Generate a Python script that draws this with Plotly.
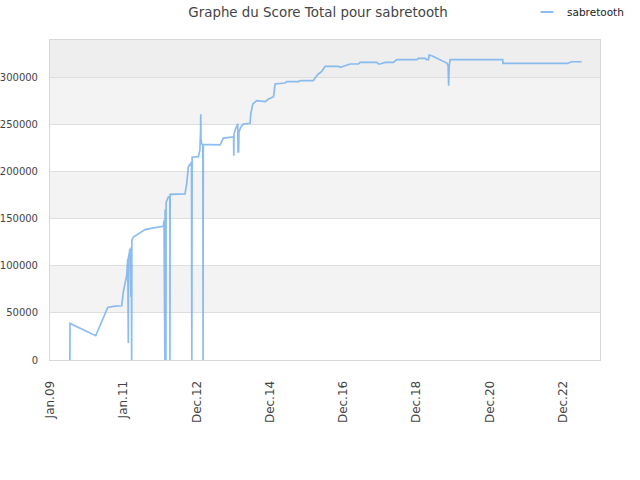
import plotly.graph_objects as go

dates = [
    "2009-07-18", "2009-07-19", "2010-04-01", "2010-07-30", "2010-10-10", "2010-12-16",
    "2011-01-01", "2011-02-04", "2011-02-14", "2011-02-20", "2011-02-22", "2011-03-09",
    "2011-03-18", "2011-03-22", "2011-03-25", "2011-03-27", "2011-04-11", "2011-05-30",
    "2011-08-05", "2011-11-13", "2012-02-03", "2012-02-10", "2012-02-19", "2012-02-21",
    "2012-02-29", "2012-03-02", "2012-03-24", "2012-04-08", "2012-04-09", "2012-04-11",
    "2012-09-06", "2012-09-23", "2012-10-09", "2012-11-10", "2012-11-13", "2012-11-16",
    "2013-01-17", "2013-02-01", "2013-02-08", "2013-02-10", "2013-02-12", "2013-02-18",
    "2013-03-03", "2013-03-05", "2013-03-07", "2013-08-21", "2013-09-23", "2013-12-16",
    "2014-01-03", "2014-01-05", "2014-01-07", "2014-01-20", "2014-02-13", "2014-02-16",
    "2014-02-22", "2014-02-25", "2014-03-15", "2014-04-10", "2014-06-16", "2014-06-23",
    "2014-07-13", "2014-08-22", "2014-11-14", "2014-12-17", "2015-02-05", "2015-02-20",
    "2015-05-30", "2015-06-16", "2015-10-10", "2015-10-27", "2016-03-07", "2016-03-24",
    "2016-04-26", "2016-05-30", "2016-07-02", "2016-11-11", "2016-11-28", "2017-01-17",
    "2017-03-08", "2017-05-29", "2017-06-15", "2017-11-29", "2017-12-15", "2018-01-01",
    "2018-02-19", "2018-05-13", "2018-06-16", "2019-01-01", "2019-01-17", "2019-03-25",
    "2019-04-11", "2019-04-27", "2019-05-04", "2019-05-30", "2019-10-27", "2019-11-09",
    "2019-11-14", "2019-11-19", "2019-11-29", "2021-05-05", "2021-05-08", "2023-02-11",
    "2023-03-22", "2023-06-30",
]
scores = [
    0, 38900, 25800, 55900, 57200, 57600,
    72400, 90100, 107800, 18000, 109000, 118400,
    67000, 120000, 0, 127200, 130700, 134300,
    138500, 140600, 142000, 148400, 0, 160000,
    0, 167800, 173100, 174000, 0, 176000,
    176500, 187000, 205000, 210000, 0, 215500,
    216000, 222600, 242000, 261000, 236000, 229700,
    229000, 0, 229000, 228500, 235700, 236800,
    236800, 217000, 240000, 245000, 250900, 221000,
    221000, 242000, 247300, 250800, 251500, 261500,
    272100, 275600, 274500, 277300, 279800, 293300,
    294300, 295700, 295700, 296800, 296800, 299600,
    303900, 306700, 312000, 312000, 311000, 312700,
    314500, 314500, 316200, 316200, 314500, 314500,
    316200, 316200, 319100, 319100, 320400, 320400,
    319100, 319100, 324000, 323300, 315500, 312700,
    291500, 312000, 319100, 319100, 315100, 315100,
    316900, 316900,
]

tick_vals = ["2009-01-01", "2011-01-01", "2012-12-31", "2014-12-31",
             "2016-12-30", "2018-12-30", "2020-12-29", "2022-12-29"]
tick_text = ["Jan.09", "Jan.11", "Dec.12", "Dec.14", "Dec.16", "Dec.18", "Dec.20", "Dec.22"]
y_ticks = [0, 50000, 100000, 150000, 200000, 250000, 300000]
band_edges = [0, 50000, 100000, 150000, 200000, 250000, 300000, 340000]
band_colors = ["#ffffff", "#f3f3f3", "#ffffff", "#f3f3f3", "#ffffff", "#f3f3f3", "#eeeeee"]

FONT = "DejaVu Sans"
LINE_COLOR = "rgba(110,172,238,0.8)"

fig = go.Figure()
fig.add_trace(go.Scatter(
    x=dates, y=scores, mode="lines", name="sabretooth", showlegend=False,
    line=dict(color=LINE_COLOR, width=1.7),
))
# legend entry with a short line sample
fig.add_trace(go.Scatter(
    x=[None], y=[None], mode="markers", name="sabretooth", showlegend=True,
    marker=dict(symbol="line-ew", size=9, line=dict(color=LINE_COLOR, width=2)),
))

shapes = []
for i, c in enumerate(band_colors):
    shapes.append(dict(type="rect", xref="paper", yref="y", x0=0, x1=1,
                       y0=band_edges[i], y1=band_edges[i + 1],
                       fillcolor=c, line=dict(width=0), layer="below"))

fig.update_layout(
    width=640, height=480,
    margin=dict(l=50, r=40, t=40, b=120, autoexpand=False),
    paper_bgcolor="white", plot_bgcolor="white",
    shapes=shapes,
    title=dict(text="Graphe du Score Total pour sabretooth", x=0.497, xanchor="center",
               xref="container", yref="container",
               y=0.975, yanchor="middle", pad=dict(t=0, b=0, l=0, r=0),
               font=dict(family=FONT, size=13.4, color="#444444")),
    showlegend=True,
    legend=dict(orientation="h", xref="container", yref="container",
                x=0.8235, xanchor="left", y=0.975, yanchor="middle",
                font=dict(family=FONT, size=10.5, color="#222222"),
                bgcolor="rgba(0,0,0,0)"),
    xaxis=dict(type="date", range=["2009-01-01", "2023-12-30"], automargin=False,
               tickvals=tick_vals, ticktext=tick_text, tickangle=-90,
               showgrid=False, zeroline=False,
               showline=True, mirror=True, linecolor="#d8d8d8", linewidth=1,
               ticks="outside", ticklen=15, tickcolor="rgba(0,0,0,0)",
               tickfont=dict(family=FONT, size=12, color="#444444")),
    yaxis=dict(range=[0, 340000], tickvals=y_ticks, tickformat="d", automargin=False,
               showgrid=True, gridcolor="#dedede", gridwidth=1, zeroline=False,
               showline=True, mirror=True, linecolor="#d8d8d8", linewidth=1,
               ticks="outside", ticklen=9, tickcolor="rgba(0,0,0,0)",
               tickfont=dict(family=FONT, size=10, color="#444444")),
)

fig.write_html("out.html", config={"displayModeBar": False},
               post_script="document.body.style.margin='0';")
